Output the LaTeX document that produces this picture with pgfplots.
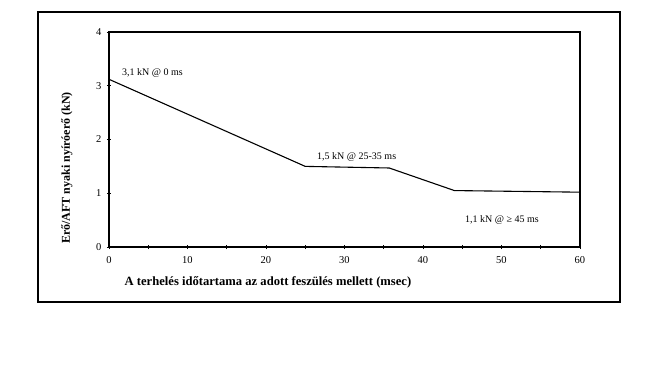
\documentclass[border=0pt]{standalone}
\usepackage{pgfplots}
\pgfplotsset{compat=1.18}
\usepackage{fontspec}
\setmainfont{Liberation Serif}
\begin{document}
\begin{tikzpicture}[x=1pt,y=1pt]
\useasboundingbox (0,0) rectangle (657,-370);
\draw[line width=1.2pt] (38,-12) rectangle (620,-302);
\begin{axis}[
  at={(109pt,-247pt)}, anchor=south west,
  scale only axis, width=471pt, height=215pt,
  xmin=0, xmax=60, ymin=0, ymax=4,
  xtick={0,10,20,30,40,50,60},
  minor xtick={5,15,25,35,45,55},
  ytick={0,1,2,3,4},
  xtick pos=bottom, ytick pos=left,
  tick align=center,
  major tick length=4pt, minor tick length=4pt,
  axis line style={line width=1.1pt},
  every tick/.style={black, line width=0.9pt},
  tick label style={font=\fontsize{10.5}{11}\selectfont},
  xticklabel style={yshift=-4pt},
  yticklabel style={xshift=-2pt},
  /pgf/number format/assume math mode=true,
  xlabel={\textbf{A terhelés időtartama az adott feszülés mellett (msec)}},
  ylabel={\textbf{Erő/AFT nyaki nyíróerő (kN)}},
  xlabel style={font=\fontsize{12.6}{13}\selectfont, at={(axis cs:20.25,-0.65)}, anchor=center},
  ylabel style={font=\fontsize{12}{13}\selectfont, at={(axis cs:-5.35,1.47)}, anchor=center},
  clip=false,
]
\addplot[black, line width=1.1pt] coordinates {(0,3.12) (25,1.50) (35.7,1.47) (44,1.05) (60,1.02)};
\node[anchor=west, inner sep=0pt, font=\fontsize{10}{11}\selectfont] at (axis cs:1.66,3.24) {3,1 kN @ 0 ms};
\node[anchor=west, inner sep=0pt, font=\fontsize{10}{11}\selectfont] at (axis cs:26.5,1.67) {1,5 kN @ 25-35 ms};
\node[anchor=west, inner sep=0pt, font=\fontsize{10}{11}\selectfont] at (axis cs:45.35,0.50) {1,1 kN @ ≥ 45 ms};
\end{axis}
\end{tikzpicture}
\end{document}
